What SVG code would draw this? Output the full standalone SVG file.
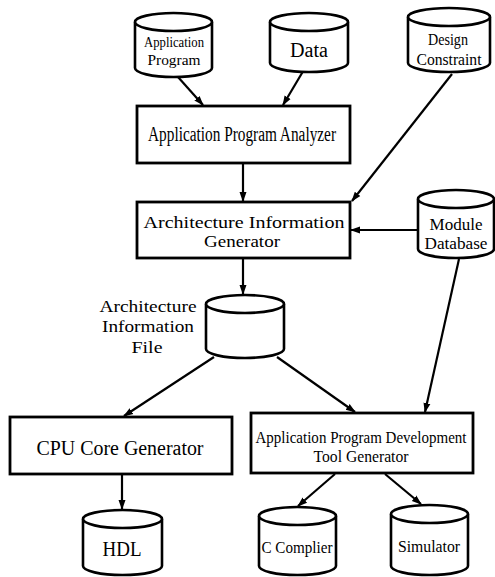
<svg xmlns="http://www.w3.org/2000/svg" width="495" height="577" viewBox="0 0 495 577">
<style>
.box{fill:#fff;stroke:#000;stroke-width:2.8}
.cyl{fill:#fff;stroke:#000;stroke-width:2.6}
.ln{fill:none;stroke:#000;stroke-width:2.2}
text{font-family:"Liberation Serif","DejaVu Serif","Times New Roman",serif;fill:#000;text-anchor:middle}
.t1{font-size:20px}
.t2{font-size:17px}
.t3{font-size:15px}
</style>
<defs>
<marker id="ah" markerUnits="userSpaceOnUse" markerWidth="10" markerHeight="10" viewBox="0 0 10 10" refX="9" refY="5" orient="auto">
<path d="M0,1.5 L10,5 L0,8.5 Z" fill="#000"/>
</marker>
</defs>
<rect width="495" height="577" fill="#fff"/>
<g id="connectors">
<line class="ln" x1="178" y1="77" x2="203" y2="105" marker-end="url(#ah)"/>
<line class="ln" x1="305" y1="68" x2="283" y2="105" marker-end="url(#ah)"/>
<line class="ln" x1="452" y1="74" x2="352" y2="201" marker-end="url(#ah)"/>
<line class="ln" x1="243" y1="164" x2="243" y2="201" marker-end="url(#ah)"/>
<line class="ln" x1="418" y1="230" x2="351" y2="230" marker-end="url(#ah)"/>
<line class="ln" x1="243" y1="259" x2="243" y2="294" marker-end="url(#ah)"/>
<line class="ln" x1="214" y1="357" x2="124" y2="416" marker-end="url(#ah)"/>
<line class="ln" x1="277" y1="357" x2="355" y2="412" marker-end="url(#ah)"/>
<line class="ln" x1="459" y1="259" x2="425" y2="412" marker-end="url(#ah)"/>
<line class="ln" x1="122" y1="475" x2="122" y2="509" marker-end="url(#ah)"/>
<line class="ln" x1="335" y1="474" x2="298" y2="506" marker-end="url(#ah)"/>
<line class="ln" x1="385" y1="474" x2="421" y2="504" marker-end="url(#ah)"/>
</g>
<g id="app-program">
<path class="cyl" d="M135,22 V68 A38.5,9 0 0 0 212,68 V22"/>
<ellipse class="cyl" cx="173.5" cy="22" rx="38.5" ry="9"/>
<text class="t3" x="174" y="47" textLength="60" lengthAdjust="spacingAndGlyphs">Application</text>
<text class="t3" x="174" y="65" textLength="53" lengthAdjust="spacingAndGlyphs">Program</text>
</g>
<g id="data">
<path class="cyl" d="M270,22 V63 A39,9 0 0 0 348,63 V22"/>
<ellipse class="cyl" cx="309" cy="22" rx="39" ry="9"/>
<text class="t1" x="309" y="57" textLength="38" lengthAdjust="spacingAndGlyphs">Data</text>
</g>
<g id="design-constraint">
<path class="cyl" d="M408,17 V63 A41,9 0 0 0 490,63 V17"/>
<ellipse class="cyl" cx="449" cy="17" rx="41" ry="9"/>
<text class="t2" x="448" y="45" textLength="40" lengthAdjust="spacingAndGlyphs">Design</text>
<text class="t2" x="449" y="65" textLength="65" lengthAdjust="spacingAndGlyphs">Constraint</text>
</g>
<g id="analyzer">
<rect class="box" x="137" y="106" width="213" height="57"/>
<text class="t1" x="242" y="141" textLength="188" lengthAdjust="spacingAndGlyphs">Application Program Analyzer</text>
</g>
<g id="arch-gen">
<rect class="box" x="137" y="202" width="213" height="56"/>
<text class="t2" x="244" y="228" textLength="201" lengthAdjust="spacingAndGlyphs">Architecture Information</text>
<text class="t2" x="242" y="247" textLength="76" lengthAdjust="spacingAndGlyphs">Generator</text>
</g>
<g id="module-db">
<path class="cyl" d="M418,199 V249 A38,9 0 0 0 494,249 V199"/>
<ellipse class="cyl" cx="456" cy="199" rx="38" ry="9"/>
<text class="t2" x="456" y="230" textLength="53" lengthAdjust="spacingAndGlyphs">Module</text>
<text class="t2" x="456" y="249" textLength="63" lengthAdjust="spacingAndGlyphs">Database</text>
</g>
<g id="arch-file">
<path class="cyl" d="M206,304 V349 A39,9 0 0 0 284,349 V304"/>
<ellipse class="cyl" cx="245" cy="304" rx="39" ry="9"/>
<text class="t2" x="148" y="312" textLength="97" lengthAdjust="spacingAndGlyphs">Architecture</text>
<text class="t2" x="148" y="332" textLength="92" lengthAdjust="spacingAndGlyphs">Information</text>
<text class="t2" x="147" y="353" textLength="31" lengthAdjust="spacingAndGlyphs">File</text>
</g>
<g id="cpu-core">
<rect class="box" x="10" y="417" width="222" height="57"/>
<text class="t1" x="120" y="455" textLength="167" lengthAdjust="spacingAndGlyphs">CPU Core Generator</text>
</g>
<g id="tool-gen">
<rect class="box" x="251" y="413" width="222" height="60"/>
<text class="t2" x="361" y="443" textLength="211" lengthAdjust="spacingAndGlyphs">Application Program Development</text>
<text class="t2" x="361" y="462" textLength="95" lengthAdjust="spacingAndGlyphs">Tool Generator</text>
</g>
<g id="hdl">
<path class="cyl" d="M83,519 V566 A39.5,9 0 0 0 162,566 V519"/>
<ellipse class="cyl" cx="122.5" cy="519" rx="39.5" ry="9"/>
<text class="t1" x="122" y="556" textLength="39" lengthAdjust="spacingAndGlyphs">HDL</text>
</g>
<g id="c-compiler">
<path class="cyl" d="M259,516 V566 A38.5,9 0 0 0 336,566 V516"/>
<ellipse class="cyl" cx="297.5" cy="516" rx="38.5" ry="9"/>
<text class="t2" x="297" y="553" textLength="71" lengthAdjust="spacingAndGlyphs">C Complier</text>
</g>
<g id="simulator">
<path class="cyl" d="M391,514 V566 A38.5,9 0 0 0 468,566 V514"/>
<ellipse class="cyl" cx="429.5" cy="514" rx="38.5" ry="9"/>
<text class="t2" x="429" y="552" textLength="62" lengthAdjust="spacingAndGlyphs">Simulator</text>
</g>
</svg>
